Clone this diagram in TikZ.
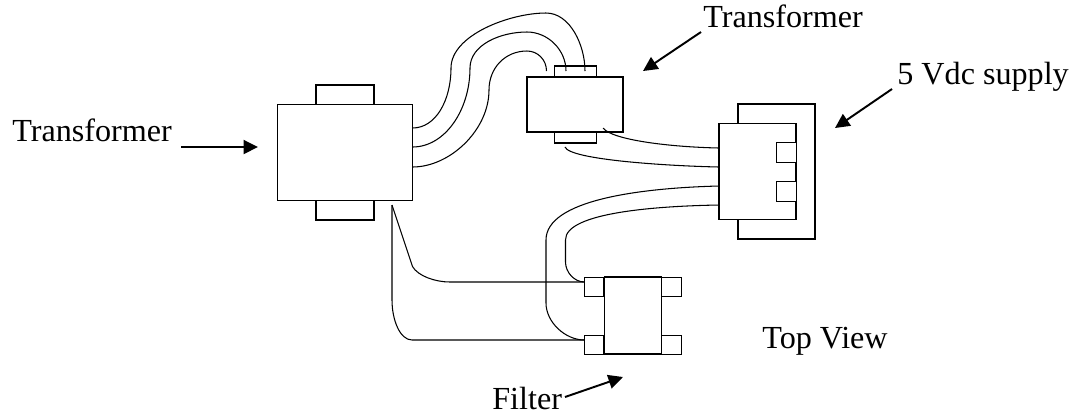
\documentclass[tikz,border=0pt]{standalone}
\usepackage{fontspec}
\setmainfont{Liberation Serif}
\usetikzlibrary{arrows.meta}
\tikzset{
	part/.style={shape=rectangle, draw, fill=white, inner sep=0pt, line width=0.6pt},
	wire/.style={line width=0.6pt},
	pointer/.style={line width=1.1pt, -{Triangle[length=0.29cm, width=0.28cm]}},
	caption/.style={anchor=base west, inner sep=0pt, font=\fontsize{18.3}{22}\selectfont},
}

\begin{document}
\begin{tikzpicture}[x=0.02cm, y=-0.02cm]
	\useasboundingbox (0, 0) rectangle (1076, 414);
	% large transformer
	\node[part, minimum width=1.16cm, minimum height=0.4cm](T1top) at (345, 95){};
	\node[part, minimum width=1.16cm, minimum height=0.4cm](T1bot) at (345, 210){};
	\node[part, minimum width=2.7cm, minimum height=1.91cm](T1) at (345, 152.5){};
	% small transformer
	\node[part, minimum width=0.83cm, minimum height=0.22cm](T2top) at (575.5, 71.5){};
	\node[part, minimum width=0.83cm, minimum height=0.22cm](T2bot) at (575.5, 137.5){};
	\node[part, minimum width=1.92cm, minimum height=1.1cm](T2) at (575, 104.5){};
	% supply
	\node[part, minimum width=1.54cm, minimum height=2.7cm](S0) at (776.5, 171.5){};
	\node[part, minimum width=1.54cm, minimum height=1.93cm](S1) at (757.5, 171.5){};
	\node[part, minimum width=0.39cm, minimum height=0.39cm](S2) at (786.5, 152.5){};
	\node[part, minimum width=0.39cm, minimum height=0.39cm](S3) at (786.5, 191.5){};
	% filter
	\node[part, minimum width=1.15cm, minimum height=1.54cm](F0) at (633, 315.5){};
	\node[part, minimum width=0.39cm, minimum height=0.39cm](F1) at (594, 287){};
	\node[part, minimum width=0.39cm, minimum height=0.39cm](F2) at (594, 345){};
	\node[part, minimum width=0.39cm, minimum height=0.39cm](F3) at (671.5, 287){};
	\node[part, minimum width=0.39cm, minimum height=0.39cm](F4) at (671.5, 345){};
	% wire ends
	\coordinate (A1) at (412.5, 128);
	\coordinate (A2) at (412.5, 147);
	\coordinate (A3) at (412.5, 167);
	\coordinate (B1) at (585, 71);
	\coordinate (B2) at (566, 71);
	\coordinate (B3) at (546.5, 71);
	\coordinate (C1) at (603, 128);
	\coordinate (C2) at (565, 147);
	\coordinate (D1) at (719, 148);
	\coordinate (D2) at (719, 167);
	\coordinate (D3) at (719, 186);
	\coordinate (D4) at (719, 205);
	\coordinate (E1) at (584.5, 340);
	\coordinate (E2) at (584.5, 282);
	\coordinate (G1) at (392, 205);
	% wires
	\draw[wire] (A1) .. controls (436, 128) and (451, 100) .. (451, 68) .. controls (451, 35) and (510, 13) .. (546, 13) .. controls (570, 13) and (585, 45) .. (B1);
	\draw[wire] (A2) .. controls (445, 147) and (470, 110) .. (470, 68) .. controls (470, 45) and (500, 32) .. (527, 32) .. controls (548, 32) and (566, 50) .. (B2);
	\draw[wire] (A3) .. controls (450, 167) and (489, 130) .. (489, 90) .. controls (489, 68) and (505, 51) .. (527, 51) .. controls (538, 51) and (546.5, 60) .. (B3);
	\draw[wire] (C1) .. controls (612, 140) and (670, 147) .. (D1);
	\draw[wire] (C2) .. controls (570, 160) and (670, 166) .. (D2);
	\draw[wire] (D3) .. controls (640, 188) and (546, 200) .. (546, 240) -- (546, 303) .. controls (546, 322) and (565, 340) .. (E1);
	\draw[wire] (D4) .. controls (660, 206) and (565, 212) .. (565.5, 240) -- (565.5, 262) .. controls (565.5, 272) and (574, 282) .. (E2);
	\draw[wire] (G1) -- (412.5, 266.5) .. controls (418, 276) and (435, 282) .. (450, 282) -- (E2);
	\draw[wire] (G1) -- (392, 300) .. controls (392, 320) and (400, 340) .. (412, 340) -- (E1);
	% pointers
	\coordinate (P1) at (181, 147);
	\coordinate (P2) at (258, 147);
	\coordinate (P3) at (701, 32);
	\coordinate (P4) at (643, 71);
	\coordinate (P5) at (892, 89);
	\coordinate (P6) at (835, 128);
	\coordinate (P7) at (565, 397);
	\coordinate (P8) at (623, 377);
	\draw[pointer] (P1) -- (P2);
	\draw[pointer] (P3) -- (P4);
	\draw[pointer] (P5) -- (P6);
	\draw[pointer] (P7) -- (P8);
	% labels
	\node[caption](L1) at (12, 141.5){Transformer};
	\node[caption](L2) at (703, 27){Transformer};
	\node[caption](L3) at (897, 84){5 Vdc supply};
	\node[caption](L4) at (762, 348){Top View};
	\node[caption](L5) at (492, 409){Filter};
\end{tikzpicture}
\end{document}
